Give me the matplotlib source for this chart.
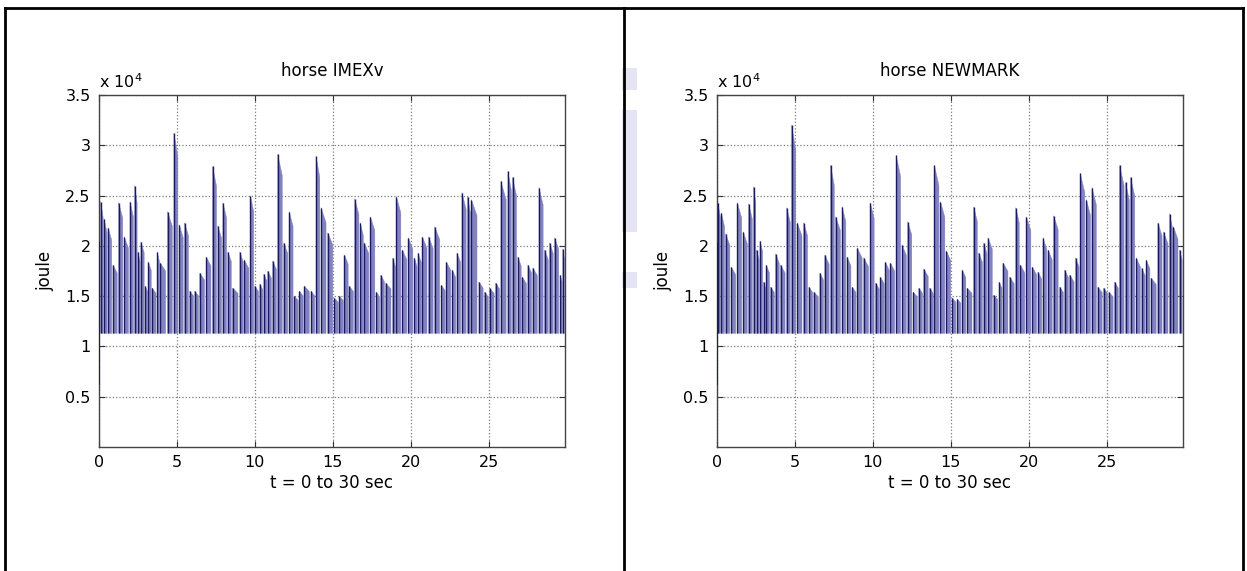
import numpy as np
import matplotlib
matplotlib.use("Agg")
import matplotlib.pyplot as plt
from matplotlib.lines import Line2D
from matplotlib.patches import Rectangle
from matplotlib.collections import PolyCollection

# ---------------- data (energy in units of 10^4 joule) ----------------
titles = ["horse IMEXv", "horse NEWMARK"]
xlabel_text = "t = 0 to 30 sec"
ylabel_text = "joule"
xticks = [0, 5, 10, 15, 20, 25]
yticks = [0.5, 1, 1.5, 2, 2.5, 3, 3.5]
ytick_labels = ["0.5", "1", "1.5", "2", "2.5", "3", "3.5"]

start_value = 0.62      # value at t = 0
trough_value = 1.15     # common lower level of every oscillation
t_end = 29.9

imex_t = [0.11, 0.32, 0.58, 0.90, 1.26, 1.62, 1.99, 2.29, 2.50, 2.69,
          2.97, 3.16, 3.42, 3.74, 3.93, 4.40, 4.81, 5.15, 5.49, 5.83,
          6.15, 6.47, 6.88, 7.29, 7.63, 7.95, 8.27, 8.57, 9.04, 9.32,
          9.72, 10.00, 10.32, 10.58, 10.83, 11.15, 11.47, 11.86, 12.20, 12.54,
          12.86, 13.18, 13.61, 13.93, 14.25, 14.68, 15.11, 15.43, 15.75, 16.07,
          16.41, 16.77, 17.03, 17.41, 17.80,
          18.08, 18.40, 18.85, 19.08, 19.47, 19.85, 20.24, 20.47, 20.75, 21.15,
          21.54, 21.97, 22.29, 22.67, 22.97, 23.29, 23.65, 23.89, 24.38, 24.74,
          25.06, 25.45, 25.79, 26.24, 26.54, 26.88, 27.16, 27.52, 27.84, 28.23,
          28.59, 28.91, 29.23, 29.59, 29.76]
imex_peak = [2.44, 2.27, 2.18, 1.81, 2.43, 2.09, 2.44, 2.60, 1.94, 2.04,
             1.60, 1.84, 1.58, 1.94, 1.83, 2.34, 3.12, 2.21, 2.23, 1.55,
             1.55, 1.73, 1.89, 2.79, 2.20, 2.43, 1.94, 1.58, 1.94, 1.86,
             2.50, 1.60, 1.62, 1.72, 1.75, 1.85, 2.91, 2.03, 2.34, 1.50,
             1.55, 1.60, 1.55, 2.89, 2.38, 2.13, 1.48, 1.50, 1.91, 1.60,
             2.47, 2.23, 2.03, 2.29, 1.54,
             1.71, 1.63, 1.88, 2.49, 1.96, 2.08, 1.88, 1.93, 2.09, 2.09,
             2.19, 1.61, 1.84, 1.76, 1.93, 2.53, 2.49, 2.46, 1.64, 1.54,
             1.58, 1.63, 2.64, 2.74, 2.68, 1.89, 1.69, 1.81, 1.78, 2.58,
             1.96, 2.03, 2.08, 1.71, 1.97]

newmark_t = [0.06, 0.28, 0.56, 0.92, 1.30, 1.69, 2.03, 2.35, 2.54, 2.76,
             2.99, 3.16, 3.44, 3.76, 4.08, 4.47, 4.79, 5.15, 5.56, 5.90,
             6.22, 6.60, 6.92, 7.29, 7.61, 8.03, 8.35, 8.68, 9.00, 9.42,
             9.83, 10.17, 10.49, 10.81, 11.13, 11.50, 11.88, 12.24, 12.59, 12.95,
             13.27, 13.65, 13.95, 14.34, 14.72, 15.09, 15.41, 15.73, 16.05, 16.47,
             16.79, 17.12, 17.39,
             17.76, 18.10, 18.35, 18.78, 19.17, 19.47, 19.85, 20.24, 20.60, 20.92,
             21.24, 21.60, 21.99, 22.31, 22.63, 23.01, 23.31, 23.70, 24.06, 24.44,
             24.81, 25.15, 25.51, 25.83, 26.22, 26.54, 26.90, 27.26, 27.54, 27.86,
             28.29, 28.65, 29.04, 29.29, 29.68]
newmark_peak = [2.43, 2.33, 2.12, 1.79, 2.43, 2.14, 2.42, 2.59, 1.96, 2.05,
                1.64, 1.81, 1.59, 1.92, 1.81, 2.38, 3.20, 2.23, 2.23, 1.59,
                1.54, 1.73, 1.91, 2.80, 2.29, 2.39, 1.89, 1.59, 1.98, 1.88,
                2.43, 1.63, 1.69, 1.84, 1.83, 2.90, 2.01, 2.24, 1.54, 1.58,
                1.77, 1.58, 2.80, 2.44, 1.95, 1.48, 1.47, 1.76, 1.58, 2.39,
                1.93, 2.03, 2.08,
                1.51, 1.64, 1.83, 1.69, 2.38, 1.81, 2.29, 1.79, 1.74, 2.08,
                1.96, 2.30, 1.59, 1.76, 1.71, 1.88, 2.72, 2.46, 2.58, 1.59,
                1.58, 1.54, 1.64, 2.80, 2.63, 2.68, 1.88, 1.78, 1.86, 1.68,
                2.23, 2.14, 2.32, 2.19, 1.96]

series_t = [imex_t, newmark_t]
series_peak = [imex_peak, newmark_peak]

# ---------------- figure ----------------
W, H = 1247, 571
fig = plt.figure(figsize=(W / 100, H / 100), dpi=100)
fig.patch.set_facecolor("white")

FONT = "DejaVu Sans"
fill_color = "#8282c0"
line_color = "#1a1a5e"
grid_color = "#7a7a7a"


def px_rect(x0, y0, x1, y1):
    return [x0 / W, 1 - y1 / H, (x1 - x0) / W, (y1 - y0) / H]


axes_px = [(99, 95, 565, 447), (717, 95, 1183, 447)]

for k in range(2):
    ax = fig.add_axes(px_rect(*axes_px[k]))
    t = np.asarray(series_t[k])
    p = np.asarray(series_peak[k])
    nxt = np.append(t[1:], t_end)
    w = 0.74 * (nxt - t)
    polys = []
    for ti, pi, wi in zip(t, p, w):
        polys.append([(ti, trough_value - 0.02), (ti, pi),
                      (ti + wi, trough_value + 0.88 * (pi - trough_value)),
                      (ti + wi, trough_value - 0.02)])
    ax.add_collection(PolyCollection(polys, facecolors=fill_color,
                                     edgecolors=fill_color, linewidths=0.3,
                                     zorder=2))
    ax.vlines(t, trough_value - 0.02, p, color=line_color, lw=1.0, zorder=3)
    ax.vlines([0.0], start_value, p[0] - 0.4, color=line_color, lw=1.3, zorder=3)

    ax.set_xlim(0, t_end)
    ax.set_ylim(0, 3.5)
    ax.set_xticks(xticks)
    ax.set_xticklabels([str(v) for v in xticks], fontfamily=FONT, fontsize=11.5)
    ax.set_yticks(yticks)
    ax.set_yticklabels(ytick_labels, fontfamily=FONT, fontsize=11.5)
    ax.tick_params(direction="in", length=4, width=0.8, top=True, right=True,
                   colors="#333333", labelcolor="black", pad=6)
    ax.grid(True, linestyle=":", color=grid_color, linewidth=0.9)
    ax.set_axisbelow(True)
    for s in ax.spines.values():
        s.set_color("#444444")
        s.set_linewidth(1.0)
    ax.set_title(titles[k], fontfamily=FONT, fontsize=12, pad=14)
    ax.set_xlabel(xlabel_text, fontfamily=FONT, fontsize=12, labelpad=3)
    ax.set_ylabel(ylabel_text, fontfamily=FONT, fontsize=12, labelpad=8)
    ax.text(0.0, 1.012, r"x 10$^4$", transform=ax.transAxes, ha="left",
            va="bottom", fontfamily=FONT, fontsize=11.5)

# ---------------- table frame ----------------
def fig_line(x0, y0, x1, y1, lw=2.0):
    fig.add_artist(Line2D([x0 / W, x1 / W], [1 - y0 / H, 1 - y1 / H],
                          color="black", lw=lw, transform=fig.transFigure))

fig_line(5, 8, 1243, 8)
fig_line(5, 8, 5, 571)
fig_line(624, 8, 624, 571)
fig_line(1243, 8, 1243, 571)

# faint watermark near the divider
for (x0, y0, x1, y1) in [(622, 68, 637, 90), (622, 110, 637, 232),
                         (622, 272, 637, 288)]:
    fig.add_artist(Rectangle((x0 / W, 1 - y1 / H), (x1 - x0) / W, (y1 - y0) / H,
                             transform=fig.transFigure, facecolor="#c4c4ea",
                             edgecolor="none", alpha=0.45, zorder=0))

fig.savefig("out.png", dpi=100, facecolor="white")
